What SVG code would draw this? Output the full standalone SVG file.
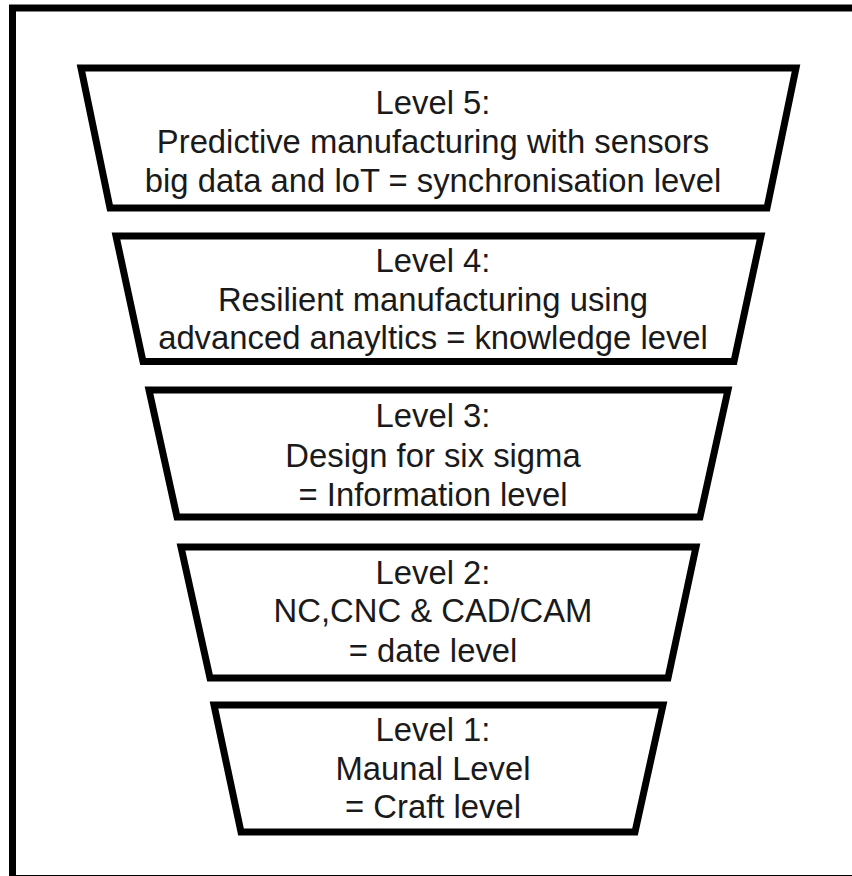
<svg xmlns="http://www.w3.org/2000/svg" width="852" height="876" viewBox="0 0 852 876">
  <style>
    .frame { fill: none; stroke: #000; stroke-width: 7; }
    .tier { fill: #fff; stroke: #000; stroke-width: 7; stroke-linejoin: miter; }
    .label { font-family: "Liberation Sans", Arial, sans-serif; font-size: 32.8px; fill: #1a1a1a; text-anchor: middle; }
  </style>
  <rect width="852" height="876" fill="#fff"/>
  <!-- outer border (open on the right, cut at the bottom) -->
  <path class="frame" d="M 860 8 H 12.5 V 878.5 H 860"/>

  <g id="level5">
    <polygon class="tier" points="81,68 796,68 767,208 110,208"/>
    <text class="label" x="433" y="114">Level 5:</text>
    <text class="label" x="433" y="153">Predictive manufacturing with sensors</text>
    <text class="label" x="433" y="192">big data and loT = synchronisation level</text>
  </g>

  <g id="level4">
    <polygon class="tier" points="116,236 761,236 734,361.5 143,361.5"/>
    <text class="label" x="433" y="272">Level 4:</text>
    <text class="label" x="433" y="311">Resilient manufacturing using</text>
    <text class="label" x="433" y="349">advanced anayltics = knowledge level</text>
  </g>

  <g id="level3">
    <polygon class="tier" points="149,390 728,390 700,517 177,517"/>
    <text class="label" x="433" y="427">Level 3:</text>
    <text class="label" x="433" y="467">Design for six sigma</text>
    <text class="label" x="433" y="506">= Information level</text>
  </g>

  <g id="level2">
    <polygon class="tier" points="181,547 696,547 668,678 210,678"/>
    <text class="label" x="433" y="584">Level 2:</text>
    <text class="label" x="433" y="622">NC,CNC &amp; CAD/CAM</text>
    <text class="label" x="433" y="662">= date level</text>
  </g>

  <g id="level1">
    <polygon class="tier" points="214,705 663,705 635,832 241,832"/>
    <text class="label" x="433" y="741">Level 1:</text>
    <text class="label" x="433" y="780">Maunal Level</text>
    <text class="label" x="433" y="818">= Craft level</text>
  </g>

  <g id="connectors"/>
</svg>
